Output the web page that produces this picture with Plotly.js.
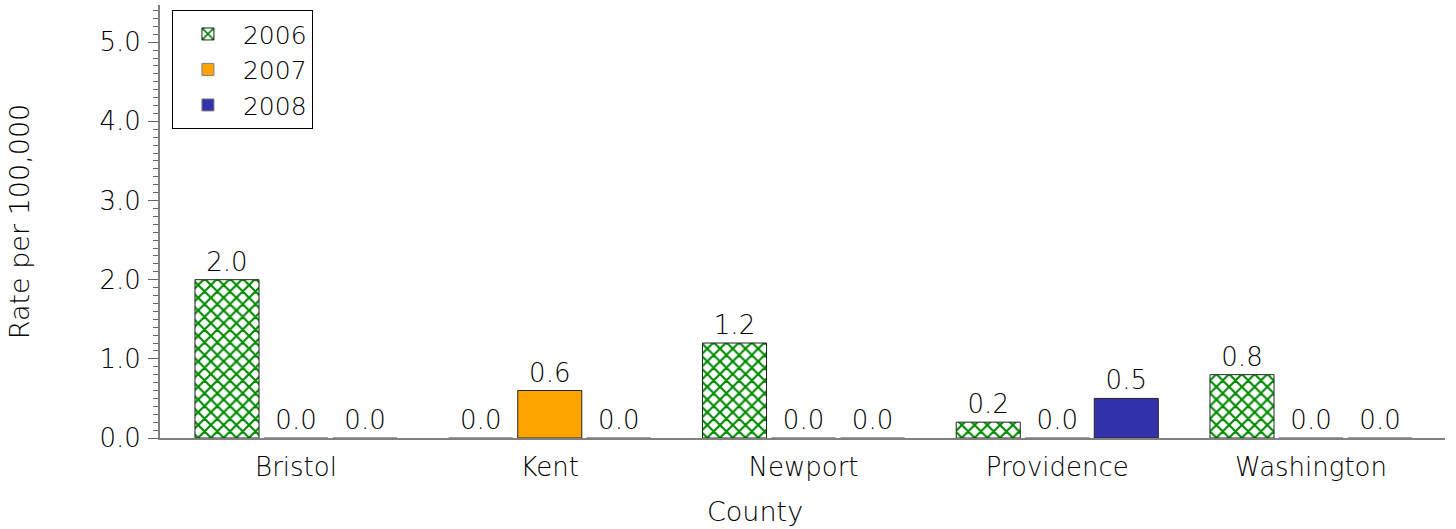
<!DOCTYPE html>
<html>
<head>
<meta charset="utf-8">
<script src="https://cdn.plot.ly/plotly-3.0.1.min.js"></script>
<style>html,body{margin:0;padding:0;background:#fff;}#chart{width:1456px;height:529px;}</style>
</head>
<body>
<div id="chart"></div>
<script>
const counties = ["Bristol", "Kent", "Newport", "Providence", "Washington"];
const rate2006 = [2.0, 0.0, 1.2, 0.2, 0.8];
const rate2007 = [0.0, 0.6, 0.0, 0.0, 0.0];
const rate2008 = [0.0, 0.0, 0.0, 0.5, 0.0];
const labels2006 = ["2.0", "0.0", "1.2", "0.2", "0.8"];
const labels2007 = ["0.0", "0.6", "0.0", "0.0", "0.0"];
const labels2008 = ["0.0", "0.0", "0.0", "0.5", "0.0"];
const yTickVals = [0, 1, 2, 3, 4, 5];
const yTickText = ["0.0", "1.0", "2.0", "3.0", "4.0", "5.0"];
const xTitle = "County";
const yTitle = "Rate per 100,000";

const FONT = "DejaVu Sans, sans-serif";
const textFont = {family: FONT, size: 26, color: "#000", weight: 200};
const titleFont = {family: FONT, size: 27, color: "#000", weight: 200};

function bar(name, y, labels, marker) {
  marker.line = {color: y.map(v => v > 0 ? "#222" : "#808080"), width: 1};
  return {
    type: "bar", name: name, x: counties, y: y,
    text: labels, textposition: "outside", textfont: textFont,
    cliponaxis: false, marker: marker, hoverinfo: "skip"
  };
}

const data = [
  bar("2006", rate2006, labels2006, {
    color: "#ffffff",
    pattern: {shape: "x", fgcolor: "#008a00", bgcolor: "#ffffff", size: 9, solidity: 0.42, fillmode: "replace"}
  }),
  bar("2007", rate2007, labels2007, {color: "#FFA500"}),
  bar("2008", rate2008, labels2008, {color: "#3232AA"})
];

const layout = {
  width: 1456, height: 529,
  margin: {l: 160, r: 11, t: 5, b: 91},
  paper_bgcolor: "#fff", plot_bgcolor: "#fff",
  font: textFont,
  barmode: "group", bargap: 0.184, bargroupgap: 0.072,
  showlegend: true,
  legend: {
    x: 0.0093, y: 0.988, xanchor: "left", yanchor: "top",
    bordercolor: "#000", borderwidth: 1, bgcolor: "#fff",
    font: {family: FONT, size: 25, color: "#000", weight: 200}, traceorder: "normal",
    itemwidth: 60
  },
  xaxis: {
    type: "category", range: [-0.536, 4.528],
    showline: true, linecolor: "#808080", linewidth: 2,
    ticks: "", showgrid: false, zeroline: false,
    tickfont: textFont, ticklabelstandoff: 5
  },
  yaxis: {
    range: [0, 5.47], showline: true, linecolor: "#808080", linewidth: 2,
    tickvals: yTickVals, ticktext: yTickText,
    ticks: "outside", ticklen: 10, tickwidth: 1, tickcolor: "#666",
    minor: {dtick: 0.1, ticks: "outside", ticklen: 5, tickwidth: 1, tickcolor: "#666"},
    showgrid: false, zeroline: false,
    tickfont: textFont, ticklabelstandoff: 2,
    title: {text: yTitle, font: titleFont, standoff: 62}
  },
  annotations: [{
    text: xTitle, xref: "paper", yref: "paper", x: 0.463, y: 0,
    xanchor: "center", yanchor: "middle", yshift: -73, showarrow: false, font: titleFont
  }]
};

Plotly.newPlot("chart", data, layout, {displayModeBar: false, staticPlot: true});
</script>
</body>
</html>
